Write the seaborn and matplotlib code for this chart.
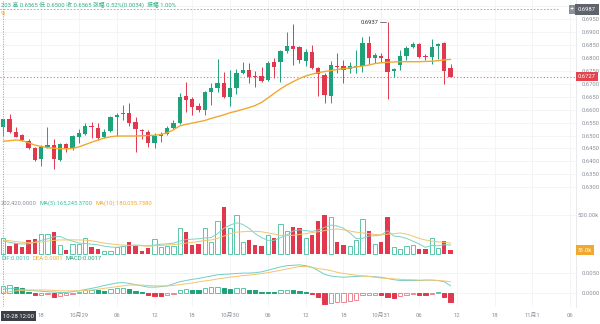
import numpy as np
import matplotlib
matplotlib.use("Agg")
import matplotlib.pyplot as plt
import seaborn as sns

# ---- hourly candles, 10-28 12:00 -> 10-31 11:00 ----
open_ = [0.6531, 0.6564, 0.6512, 0.6501, 0.6479, 0.6451, 0.6409, 0.6455, 0.6463, 0.6405,
         0.6466, 0.6451, 0.6495, 0.6506, 0.6535, 0.6528, 0.6493, 0.6517, 0.6570, 0.6583,
         0.6586, 0.6551, 0.6522, 0.6515, 0.6470, 0.6498, 0.6505, 0.6530, 0.6547, 0.6652,
         0.6640, 0.6614, 0.6598, 0.6669, 0.6685, 0.6702, 0.6650, 0.6682, 0.6743, 0.6753,
         0.6728, 0.6728, 0.6714, 0.6785, 0.6785, 0.6826, 0.6845, 0.6843, 0.6789, 0.6821,
         0.6762, 0.6734, 0.6653, 0.6769, 0.6770, 0.6756, 0.6765, 0.6769, 0.6856, 0.6800,
         0.6808, 0.6795, 0.6750, 0.6772, 0.6807, 0.6843, 0.6852, 0.6808, 0.6804, 0.6847,
         0.6856, 0.6759]
high = [0.6565, 0.6583, 0.6534, 0.6505, 0.6485, 0.6455, 0.6463, 0.6534, 0.6485, 0.6470,
        0.6470, 0.6502, 0.6525, 0.6547, 0.6552, 0.6547, 0.6524, 0.6575, 0.6587, 0.6619,
        0.6625, 0.6570, 0.6525, 0.6522, 0.6508, 0.6512, 0.6537, 0.6560, 0.6665, 0.6707,
        0.6650, 0.6625, 0.6673, 0.6702, 0.6794, 0.6747, 0.6752, 0.6755, 0.6784, 0.6780,
        0.6748, 0.6766, 0.6786, 0.6800, 0.6830, 0.6901, 0.6929, 0.6845, 0.6835, 0.6851,
        0.6765, 0.6742, 0.6788, 0.6818, 0.6790, 0.6785, 0.6832, 0.6880, 0.6885, 0.6820,
        0.6818, 0.6937, 0.6760, 0.6831, 0.6845, 0.6860, 0.6856, 0.6815, 0.6872, 0.6858,
        0.6862, 0.6777]
low = [0.6500, 0.6509, 0.6493, 0.6479, 0.6448, 0.6400, 0.6384, 0.6451, 0.6369, 0.6400,
       0.6436, 0.6445, 0.6470, 0.6502, 0.6491, 0.6482, 0.6489, 0.6512, 0.6498, 0.6560,
       0.6535, 0.6437, 0.6487, 0.6456, 0.6450, 0.6475, 0.6502, 0.6526, 0.6543, 0.6590,
       0.6580, 0.6590, 0.6580, 0.6616, 0.6669, 0.6645, 0.6614, 0.6660, 0.6738, 0.6702,
       0.6688, 0.6705, 0.6710, 0.6721, 0.6708, 0.6820, 0.6772, 0.6780, 0.6770, 0.6758,
       0.6653, 0.6627, 0.6627, 0.6740, 0.6702, 0.6740, 0.6742, 0.6745, 0.6775, 0.6780,
       0.6785, 0.6641, 0.6725, 0.6754, 0.6790, 0.6838, 0.6800, 0.6790, 0.6777, 0.6794,
       0.6699, 0.6727]
close = [0.6565, 0.6514, 0.6495, 0.6482, 0.6451, 0.6404, 0.6457, 0.6464, 0.6408, 0.6467,
         0.6447, 0.6498, 0.6511, 0.6537, 0.6531, 0.6489, 0.6515, 0.6570, 0.6581, 0.6588,
         0.6550, 0.6525, 0.6519, 0.6470, 0.6498, 0.6505, 0.6530, 0.6547, 0.6650, 0.6637,
         0.6611, 0.6599, 0.6669, 0.6685, 0.6704, 0.6648, 0.6682, 0.6740, 0.6753, 0.6725,
         0.6725, 0.6712, 0.6779, 0.6763, 0.6826, 0.6845, 0.6834, 0.6792, 0.6824, 0.6762,
         0.6738, 0.6656, 0.6772, 0.6766, 0.6753, 0.6768, 0.6770, 0.6858, 0.6800, 0.6811,
         0.6798, 0.6744, 0.6755, 0.6807, 0.6837, 0.6852, 0.6804, 0.6802, 0.6843, 0.6852,
         0.6749, 0.6727]
price_ma = [0.6478, 0.6480, 0.6483, 0.6480, 0.6472, 0.6463, 0.6458, 0.6453, 0.6451, 0.6449,
            0.6449, 0.6450, 0.6456, 0.6465, 0.6474, 0.6482, 0.6490, 0.6495, 0.6498, 0.6498,
            0.6498, 0.6498, 0.6499, 0.6500, 0.6501, 0.6504, 0.6510, 0.6522, 0.6537, 0.6543,
            0.6548, 0.6553, 0.6558, 0.6566, 0.6573, 0.6580, 0.6588, 0.6594, 0.6601, 0.6608,
            0.6616, 0.6628, 0.6645, 0.6663, 0.6680, 0.6695, 0.6708, 0.6720, 0.6730, 0.6737,
            0.6743, 0.6747, 0.6751, 0.6755, 0.6758, 0.6761, 0.6765, 0.6768, 0.6772, 0.6778,
            0.6781, 0.6783, 0.6784, 0.6785, 0.6785, 0.6785, 0.6785, 0.6786, 0.6787, 0.6789,
            0.6792, 0.6794]

volume = [202420, 106e3, 137e3, 86e3, 180e3, 188e3, 252e3, 252e3, 278e3, 115e3,
          51e3, 124e3, 124e3, 201e3, 94e3, 60e3, 43e3, 43e3, 86e3, 107e3,
          150e3, 115e3, 38e3, 73e3, 188e3, 86e3, 103e3, 103e3, 329e3, 278e3,
          115e3, 124e3, 330e3, 160e3, 420e3, 600e3, 330e3, 500e3, 150e3, 180e3,
          120e3, 100e3, 250e3, 200e3, 380e3, 300e3, 350e3, 330e3, 200e3, 250e3,
          420e3, 500e3, 480e3, 150e3, 120e3, 100e3, 180e3, 450e3, 300e3, 130e3,
          160e3, 480e3, 90e3, 60e3, 103e3, 115e3, 60e3, 60e3, 201e3, 73e3,
          171e3, 51e3]
vol_ma5 = [165245.37, 150e3, 135e3, 128e3, 130e3, 150e3, 175e3, 195e3, 220e3, 225e3,
           190e3, 165e3, 140e3, 135e3, 125e3, 118e3, 100e3, 90e3, 85e3, 95e3,
           110e3, 115e3, 110e3, 105e3, 115e3, 125e3, 130e3, 140e3, 165e3, 185e3,
           190e3, 195e3, 205e3, 210e3, 260e3, 330e3, 370e3, 400e3, 380e3, 330e3,
           260e3, 210e3, 175e3, 175e3, 210e3, 245e3, 295e3, 310e3, 300e3, 290e3,
           310e3, 340e3, 370e3, 360e3, 330e3, 270e3, 200e3, 200e3, 230e3, 235e3,
           245e3, 300e3, 230e3, 222e3, 200e3, 165e3, 130e3, 85e3, 110e3, 105e3,
           120e3, 115e3]
vol_ma10 = [180035.738, 170e3, 160e3, 150e3, 145e3, 150e3, 155e3, 165e3, 175e3, 180e3,
            180e3, 182e3, 180e3, 178e3, 170e3, 155e3, 140e3, 130e3, 120e3, 115e3,
            110e3, 108e3, 105e3, 100e3, 105e3, 110e3, 115e3, 120e3, 130e3, 140e3,
            150e3, 160e3, 175e3, 180e3, 200e3, 230e3, 260e3, 280e3, 285e3, 290e3,
            290e3, 285e3, 270e3, 255e3, 240e3, 235e3, 240e3, 250e3, 260e3, 275e3,
            285e3, 300e3, 315e3, 320e3, 310e3, 295e3, 280e3, 270e3, 260e3, 250e3,
            245e3, 255e3, 260e3, 270e3, 255e3, 230e3, 200e3, 180e3, 165e3, 155e3,
            150e3, 141e3]

dif = [0.0010, 0.0012, 0.0011, 0.0009, 0.0007, 0.0006, 0.0005, 0.0004, 0.0003, 0.0002,
       0.0002, 0.0004, 0.0006, 0.0009, 0.0012, 0.0015, 0.0019, 0.0022, 0.0025, 0.0026,
       0.0024, 0.0021, 0.0018, 0.0015, 0.0015, 0.0016, 0.0018, 0.0023, 0.0028, 0.0031,
       0.0034, 0.0036, 0.0039, 0.0042, 0.0045, 0.0046, 0.0047, 0.0048, 0.0049, 0.0049,
       0.0050, 0.0052, 0.0056, 0.0060, 0.0064, 0.0067, 0.0068, 0.0069, 0.0067, 0.0063,
       0.0055, 0.0046, 0.0042, 0.0040, 0.0039, 0.0040, 0.0041, 0.0042, 0.0041, 0.0040,
       0.0039, 0.0036, 0.0033, 0.0031, 0.0031, 0.0031, 0.0031, 0.0032, 0.0032, 0.0031,
       0.0028, 0.0018]
dea = [0.0001, 0.0004, 0.0006, 0.0007, 0.0008, 0.0008, 0.0008, 0.0008, 0.0007, 0.0006,
       0.0006, 0.0006, 0.0006, 0.0007, 0.0008, 0.0010, 0.0012, 0.0014, 0.0016, 0.0018,
       0.0020, 0.0020, 0.0020, 0.0019, 0.0018, 0.0018, 0.0018, 0.0019, 0.0021, 0.0023,
       0.0025, 0.0028, 0.0030, 0.0032, 0.0035, 0.0037, 0.0039, 0.0041, 0.0043, 0.0044,
       0.0046, 0.0048, 0.0050, 0.0053, 0.0056, 0.0059, 0.0062, 0.0065, 0.0065, 0.0063,
       0.0060, 0.0058, 0.0055, 0.0051, 0.0048, 0.0046, 0.0044, 0.0042, 0.0041, 0.0039,
       0.0037, 0.0036, 0.0035, 0.0034, 0.0033, 0.0033, 0.0032, 0.0032, 0.0032, 0.0031,
       0.0030, 0.0028]
macd = [0.0017, 0.0020, 0.0015, 0.0012, 0.0004, -0.0004, -0.0003, -0.0002, -0.0008, -0.0006,
        -0.0005, -0.0001, 0.0002, 0.0007, 0.0008, 0.0007, 0.0006, 0.0010, 0.0012, 0.0013,
        0.0010, 0.0005, 0.0002, -0.0004, -0.0006, -0.0007, -0.0004, -0.0002, 0.0008, 0.0010,
        0.0009, 0.0008, 0.0012, 0.0015, 0.0016, 0.0012, 0.0011, 0.0013, 0.0014, 0.0009,
        0.0007, 0.0004, 0.0003, 0.0002, 0.0007, 0.0008, 0.0007, 0.0005, 0.0002, -0.0001,
        -0.0008, -0.0026, -0.0023, -0.0022, -0.0020, -0.0018, -0.0016, -0.0005, -0.0004, -0.0003,
        -0.0004, -0.0010, -0.0012, -0.0006, -0.0004, -0.0002, -0.0003, -0.0004, -0.0002, 0.0002,
        -0.0010, -0.0020]

price_ticks = [0.6300, 0.6350, 0.6400, 0.6450, 0.6500, 0.6550, 0.6600, 0.6650, 0.6700,
               0.6750, 0.6800, 0.6850, 0.6900, 0.6950, 0.7000]
time_tick_pos = [6, 12, 18, 24, 30, 36, 42, 48, 54, 60, 66, 72, 78, 84, 90]
time_tick_labels = ["18", "10月29", "06", "12", "18", "10月30", "06", "12", "18",
                    "10月31", "06", "12", "18", "11月1", "06"]
last_price = 0.6727
ref_price = 0.6987
peak_price = 0.6937

# ---- styling ----
sns.set_theme(style="white")
plt.rcParams['font.family'] = ['Roboto', 'Noto Sans CJK SC', 'DejaVu Sans']

GREEN = '#1fa27a'
GREEN_LT = '#5cc6a9'
RED = '#e2384d'
RED_LT = '#ee8792'
ORANGE = '#f0a92e'
TEAL = '#7fd3c0'
GRAY = '#8a8f99'
GRID = '#f0f2f5'
FS = 4.2

W, H = 600, 324
fig = plt.figure(figsize=(W / 100, H / 100), dpi=100)
fig.patch.set_facecolor('white')


def rect(top, bottom, left=0, right=576):
    return [left / W, 1 - bottom / H, (right - left) / W, (bottom - top) / H]


ax_p = fig.add_axes(rect(0, 197))
ax_v = fig.add_axes(rect(197, 256), sharex=ax_p)
ax_m = fig.add_axes(rect(256, 307), sharex=ax_p)

o = np.array(open_); hi = np.array(high); lo = np.array(low); c = np.array(close)
vol = np.array(volume); m = np.array(macd)
idx = np.arange(len(c))
up = c >= o
cols = np.where(up, GREEN, RED)

# ---- price panel: candles + moving average ----
ax_p.vlines(idx, lo, hi, colors=cols, linewidth=0.7, zorder=3)
body_lo = np.minimum(o, c)
body_h = np.maximum(np.abs(c - o), 0.00035)
ax_p.bar(idx, body_h, bottom=body_lo, width=0.68, color=cols, linewidth=0, zorder=4)
sns.lineplot(x=idx, y=price_ma, ax=ax_p, color=ORANGE, linewidth=1.0, zorder=5)

ax_p.axhline(last_price, color='#ea6a76', linestyle=(0, (1, 2)), linewidth=0.8, zorder=2)
ax_p.axhline(ref_price, xmax=558 / 576, color='#9aa0a8', linestyle=(0, (2, 2)),
             linewidth=0.6, zorder=2)

peak_i = int(np.argmax(hi))
ax_p.plot([peak_i - 1.2, peak_i - 0.2], [peak_price, peak_price], color='#444', lw=0.5)
ax_p.text(peak_i - 1.4, peak_price, f"{peak_price:.4f}", ha='right', va='center',
          fontsize=FS, color='#333333')

ax_p.set_ylim(0.62625, 0.70234)
ax_p.set_yticks(price_ticks)
ax_p.set_yticklabels([f"{t:.4f}" for t in price_ticks])

# ---- volume panel ----
ax_v.bar(idx[up], vol[up], width=0.68, facecolor='white', edgecolor=GREEN_LT,
         linewidth=0.7, zorder=3)
ax_v.bar(idx[~up], vol[~up], width=0.68, color=RED, linewidth=0, zorder=3)
sns.lineplot(x=idx, y=vol_ma5, ax=ax_v, color=TEAL, linewidth=0.7, zorder=4)
sns.lineplot(x=idx, y=vol_ma10, ax=ax_v, color='#f3c46e', linewidth=0.7, zorder=4)
ax_v.set_ylim(-25.6e3, 730.7e3)
ax_v.set_yticks([500e3])
ax_v.set_yticklabels(["500.00k"])

# ---- MACD panel ----
prev = np.r_[0.0, m[:-1]]
rising = m > prev
pos = m >= 0
for mask, fc, ec in [(pos & rising, 'white', GREEN_LT), (pos & ~rising, GREEN, GREEN),
                     (~pos & rising, 'white', RED_LT), (~pos & ~rising, RED, RED)]:
    ax_m.bar(idx[mask], m[mask], width=0.68, facecolor=fc, edgecolor=ec,
             linewidth=0.7, zorder=3)
sns.lineplot(x=idx, y=dif, ax=ax_m, color='#6fd0c4', linewidth=0.7, zorder=4)
sns.lineplot(x=idx, y=dea, ax=ax_m, color='#f3c46e', linewidth=0.7, zorder=4)
ax_m.set_ylim(-0.003325, 0.009053)
ax_m.set_yticks([0.0, 0.005])
ax_m.set_yticklabels(["0.0000", "0.0050"])

# ---- shared axis styling ----
ax_m.set_xlim(-0.524, 90.905)
ax_m.set_xticks(time_tick_pos)
ax_m.set_xticklabels(time_tick_labels)
for ax in (ax_p, ax_v, ax_m):
    ax.set_facecolor('white')
    ax.yaxis.tick_right()
    ax.tick_params(axis='y', length=0, pad=4, labelsize=FS, labelcolor=GRAY)
    ax.tick_params(axis='x', length=0, pad=4, labelsize=FS, labelcolor=GRAY)
    ax.grid(True, color=GRID, linewidth=0.6, zorder=0)
    ax.set_axisbelow(True)
    ax.set_xlabel(""); ax.set_ylabel("")
    for s in ('top', 'left', 'bottom'):
        ax.spines[s].set_visible(False)
    ax.spines['right'].set_color('#e4e7eb')
    ax.spines['right'].set_linewidth(0.6)
    ax.axvline(0, color='#9aa0a8', linestyle=(0, (1.5, 1.5)), linewidth=0.6, zorder=6)
    if ax.get_legend():
        ax.get_legend().remove()
ax_p.tick_params(axis='x', labelbottom=False)
ax_v.tick_params(axis='x', labelbottom=False)
ax_v.tick_params(axis='y', pad=1.2)

# ---- right-side value tags ----
ytf = ax_p.get_yaxis_transform()
ax_p.text(1 + 2 / 576, ref_price, f"{ref_price:.4f}", transform=ytf, ha='left', va='center',
          fontsize=FS, color='white', clip_on=False, zorder=10,
          bbox=dict(boxstyle='square,pad=0.45', fc='#5f636b', ec='none'))
ax_p.text(572 / 576, ref_price, "+", transform=ytf, ha='center', va='center',
          fontsize=FS + 1, color='white', zorder=10,
          bbox=dict(boxstyle='square,pad=0.15', fc='#8a8f99', ec='none'))
ax_p.text(1 + 2 / 576, last_price, f"{last_price:.4f}", transform=ytf, ha='left', va='center',
          fontsize=FS, color='white', clip_on=False, zorder=10,
          bbox=dict(boxstyle='square,pad=0.35', fc='#e5444f', ec='none'))
ax_v.text(1 + 2 / 576, volume[-1], f"{volume[-1] / 1000:.1f}k", transform=ax_v.get_yaxis_transform(),
          ha='left', va='center', fontsize=FS, color='white', clip_on=False, zorder=10,
          bbox=dict(boxstyle='square,pad=0.35', fc=ORANGE, ec='none'))

# crosshair time tag
ax_m.text(0, -(316 - 307) / 51, "10-28 12:00", transform=ax_m.get_xaxis_transform(),
          ha='left', va='center', fontsize=FS, color='white', clip_on=False, zorder=10,
          bbox=dict(boxstyle='square,pad=0.35', fc='#3b3f46', ec='none'))

# ---- panel headers: pieces laid out left to right with a small gap ----
renderer = fig.canvas.get_renderer()


def header_row(y_px, pieces, x0=1.0, gap=3.0):
    x = x0
    for s, color in pieces:
        t = fig.text(x / W, 1 - y_px / H, s, ha='left', va='center', fontsize=FS, color=color)
        x += t.get_window_extent(renderer=renderer).width + gap


header_row(4.5, [(f"203 高 {high[0]:.4f} 低 {low[0]:.4f} 收 {close[0]:.4f} "
                  f"涨幅 0.52%(0.0034)  振幅 1.00%", '#2fae86')])
header_row(13, [("9)", ORANGE)])
header_row(203, [(f"{volume[0]:,.4f}", GRAY),
                 (f"MA(5):{vol_ma5[0]:,.4f}", '#3fbfa0'),
                 (f"MA(10):{vol_ma10[0]:,.4f}", ORANGE)])
header_row(259, [(f"DIF:{dif[0]:.4f}", '#3fbfb0'),
                 (f"DEA:{dea[0]:.4f}", ORANGE),
                 (f"MACD:{macd[0]:.4f}", GREEN)])

fig.savefig("out.png", dpi=100, facecolor='white')
